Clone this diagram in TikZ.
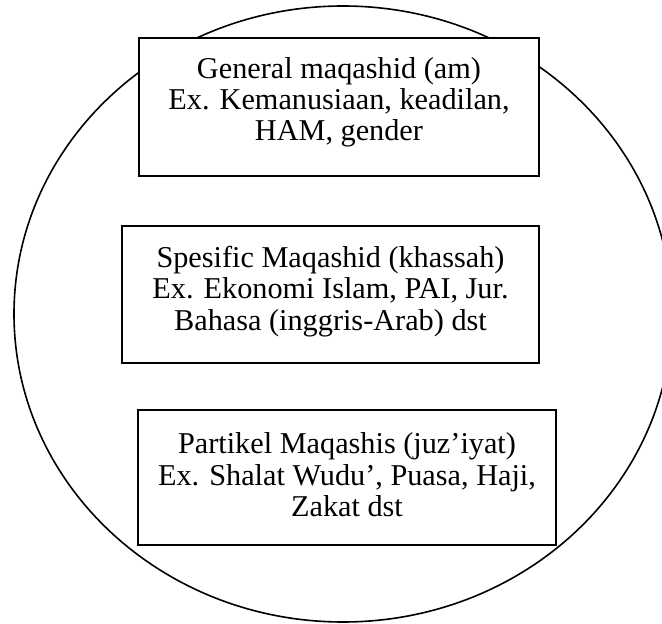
\documentclass[tikz,border=0pt]{standalone}
\usepackage{fontspec}
\setmainfont{Liberation Serif}

\begin{document}
\begin{tikzpicture}[x=.75pt,y=-.75pt,line width=1.2pt,box/.style={draw,fill=white,align=center,inner sep=0pt,text depth=12pt,font=\fontsize{22.7}{23.6}\selectfont}]
\useasboundingbox (0,0) rectangle (662,624);
\draw (343,314) ellipse [x radius=329,y radius=308];
\node[box,minimum width=300pt,minimum height=103.5pt] (general) at (339,107){General maqashid (am)\\Ex. Kemanusiaan, keadilan,\\HAM, gender};
\node[box,text depth=9.5pt,minimum width=312.75pt,minimum height=102.75pt] (specific) at (330.5,294.5){Spesific Maqashid (khassah)\\Ex. Ekonomi Islam, PAI, Jur.\\Bahasa (inggris-Arab) dst};
\node[box,text depth=4pt,minimum width=313.5pt,minimum height=101.25pt] (partikel) at (347,477.5){Partikel Maqashis (juz’iyat)\\Ex. Shalat Wudu’, Puasa, Haji,\\Zakat dst};
\end{tikzpicture}
\end{document}
